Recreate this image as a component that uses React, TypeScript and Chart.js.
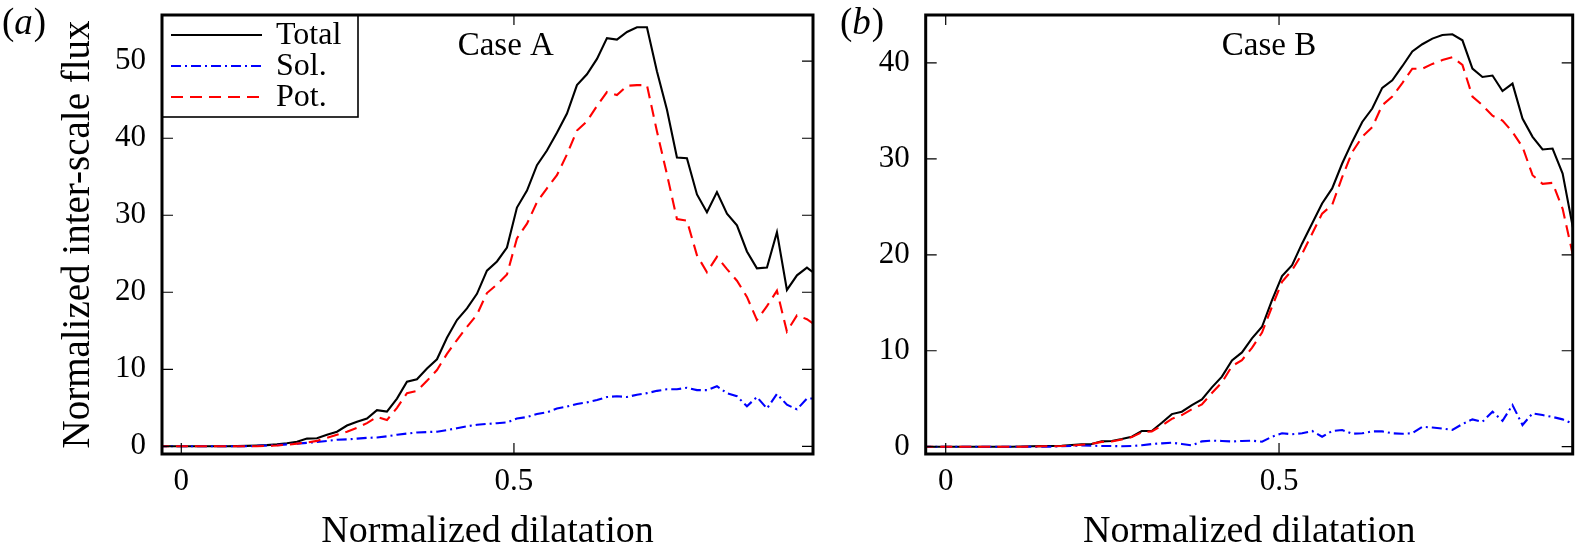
import React, { useEffect, useRef } from "react";
import { Chart, registerables } from "chart.js";

Chart.register(...registerables);

// ---------------- data ----------------
const X_VALUES = [
  -0.0366, -0.0215, -0.0065, 0.0085, 0.0236, 0.0386, 0.0537, 0.0687, 0.0837, 0.0987,
  0.1137, 0.1288, 0.1438, 0.1588, 0.1739, 0.1889, 0.2039, 0.219, 0.234, 0.249,
  0.2641, 0.2791, 0.2941, 0.3091, 0.3242, 0.3392, 0.3542, 0.3693, 0.3843, 0.3993,
  0.4143, 0.4294, 0.4444, 0.4594, 0.4745, 0.4895, 0.5045, 0.5196, 0.5346, 0.5496,
  0.5646, 0.5797, 0.5947, 0.6097, 0.6248, 0.6398, 0.6548, 0.6699, 0.6849, 0.6999,
  0.7149, 0.73, 0.745, 0.76, 0.7751, 0.7901, 0.8051, 0.8202, 0.8352, 0.8502,
  0.8652, 0.8803, 0.8953, 0.9103, 0.9254, 0.9404, 0.9554,
];

// Case A
const A_TOTAL = [
  0, 0, 0, 0, 0, 0, 0, 0, 0.02, 0.05,
  0.1, 0.15, 0.25, 0.4, 0.6, 1.0, 1.05, 1.5, 1.9, 2.7,
  3.2, 3.6, 4.7, 4.5, 6.2, 8.4, 8.7, 10.1, 11.3, 14.1,
  16.4, 17.9, 19.8, 22.8, 24.0, 25.8, 31.0, 33.2, 36.5, 38.4,
  40.7, 43.2, 46.9, 48.3, 50.3, 53.0, 52.8, 53.8, 54.4, 54.4,
  48.7, 43.7, 37.5, 37.4, 32.7, 30.4, 33.0, 30.2, 28.7, 25.3,
  23.1, 23.2, 27.8, 20.3, 22.2, 23.2, 22.2,
];
const A_SOL = [
  0, 0, 0, 0, 0, 0, 0, 0, 0, 0,
  0.05, 0.1, 0.15, 0.25, 0.35, 0.45, 0.55, 0.7, 0.85, 0.9,
  1.0, 1.1, 1.15, 1.3, 1.5, 1.65, 1.8, 1.85, 1.9, 2.1,
  2.35, 2.6, 2.8, 2.9, 3.0, 3.1, 3.6, 3.8, 4.2, 4.4,
  4.9, 5.15, 5.5, 5.7, 6.0, 6.4, 6.5, 6.4, 6.7, 6.9,
  7.2, 7.4, 7.4, 7.6, 7.3, 7.3, 7.8, 6.9, 6.5, 5.2,
  6.4, 4.9, 6.8, 5.4, 4.8, 6.2, 6.2,
];
const A_POT = [
  0, 0, 0, 0, 0, 0, 0, 0, 0, 0,
  0, 0.05, 0.1, 0.2, 0.35, 0.5, 0.7, 1.1, 1.5, 1.9,
  2.4, 3.0, 3.8, 3.4, 5.0, 6.9, 7.2, 8.5, 9.9, 12.0,
  13.8, 15.5, 17.1, 19.9, 21.0, 22.3, 27.0, 28.9, 31.7, 33.5,
  35.2, 37.9, 41.0, 42.2, 44.2, 46.0, 45.6, 46.8, 46.9, 46.9,
  40.9, 35.3, 29.5, 29.3, 24.8, 22.6, 24.6, 23.0, 21.5, 19.4,
  16.4, 18.2, 20.2, 14.9, 17.0, 16.5, 15.6,
];

// Case B
const B_TOTAL = [
  0, 0, 0, 0, 0, 0, 0, 0, 0, 0,
  0.02, 0.04, 0.06, 0.08, 0.1, 0.18, 0.24, 0.28, 0.56, 0.6,
  0.8, 1.04, 1.64, 1.64, 2.5, 3.4, 3.65, 4.34, 4.93, 6.19,
  7.3, 9.0, 9.83, 11.3, 12.5, 15.28, 17.78, 18.93, 21.19, 23.27,
  25.35, 26.92, 29.52, 31.77, 33.85, 35.25, 37.4, 38.2, 39.66, 41.2,
  41.95, 42.54, 42.92, 42.99, 42.36, 39.42, 38.54, 38.69, 37.08, 37.85,
  34.2, 32.3, 30.98, 31.08, 28.48, 22.99, 23.3,
];
const B_SOL = [
  0, 0, 0, 0, 0, 0, 0, 0, 0, 0,
  0, 0, 0, 0, 0.05, 0.08, 0.12, 0.1, 0.08, 0.07,
  0.05, 0.07, 0.15, 0.28, 0.35, 0.42, 0.28, 0.14, 0.56, 0.63,
  0.6, 0.55, 0.6, 0.63, 0.52, 1.04, 1.4, 1.3, 1.4, 1.64,
  1.04, 1.64, 1.74, 1.35, 1.4, 1.6, 1.6, 1.4, 1.35, 1.4,
  2.08, 2.0, 1.9, 1.75, 2.36, 2.85, 2.6, 3.65, 2.7, 4.34,
  2.26, 3.48, 3.3, 3.1, 2.85, 2.4, 2.1,
];
const B_POT = [
  0, 0, 0, 0, 0, 0, 0, 0, 0, 0,
  0, 0.02, 0.04, 0.05, 0.07, 0.12, 0.2, 0.3, 0.5, 0.55,
  0.75, 1.0, 1.5, 1.6, 2.2, 2.9, 3.3, 3.9, 4.4, 5.6,
  6.7, 8.4, 9.03, 10.3, 11.9, 14.6, 17.19, 18.4, 20.1, 22.2,
  24.3, 25.2, 28.1, 30.7, 32.3, 33.3, 35.6, 36.5, 37.9, 39.4,
  39.4, 39.9, 40.3, 40.6, 39.8, 36.5, 35.6, 34.5, 34.0, 32.8,
  31.25, 28.3, 27.4, 27.5, 24.8, 20.1, 20.6,
];

const SERIES_NAMES = ["Total", "Sol.", "Pot."];
const X_TICKS = [0, 0.5];
const X_TICK_LABELS = ["0", "0.5"];
const A_Y_TICKS = [0, 10, 20, 30, 40, 50];
const B_Y_TICKS = [0, 10, 20, 30, 40];
const X_TITLE = "Normalized dilatation";
const Y_TITLE = "Normalized inter-scale flux";

// ---------------- styling ----------------
const FONT = '"Liberation Serif", "DejaVu Serif", serif';
const TICK_SIZE = 31;
const H = 557;

type Panel = {
  canvasLeft: number;
  width: number;
  yAxisWidth: number;
  padRight: number;
  xMin: number;
  xMax: number;
  yMin: number;
  yMax: number;
  yTicks: number[];
  total: number[];
  sol: number[];
  pot: number[];
  letter: string;
  letterX: number;
  caseLabel: string;
  caseX: number;
  legend: boolean;
  yTitle: boolean;
};

const PANELS: Panel[] = [
  {
    canvasLeft: 0,
    width: 830,
    yAxisWidth: 162,
    padRight: 17,
    xMin: -0.029,
    xMax: 0.9495,
    yMin: -1.0,
    yMax: 56.0,
    yTicks: A_Y_TICKS,
    total: A_TOTAL,
    sol: A_SOL,
    pot: A_POT,
    letter: "a",
    letterX: 2,
    caseLabel: "Case A",
    caseX: 0.4877,
    legend: true,
    yTitle: true,
  },
  {
    canvasLeft: 830,
    width: 750,
    yAxisWidth: 95.7,
    padRight: 7.3,
    xMin: -0.03,
    xMax: 0.9405,
    yMin: -0.76,
    yMax: 45.0,
    yTicks: B_Y_TICKS,
    total: B_TOTAL,
    sol: B_SOL,
    pot: B_POT,
    letter: "b",
    letterX: 10,
    caseLabel: "Case B",
    caseX: 0.485,
    legend: false,
    yTitle: false,
  },
];

function zeroPadding(s: any) {
  s.paddingTop = 0;
  s.paddingBottom = 0;
  s.paddingLeft = 0;
  s.paddingRight = 0;
}

function makeDecor(p: Panel) {
  return {
    id: "decor",
    afterDatasetsDraw(chart: any) {
      const ctx: CanvasRenderingContext2D = chart.ctx;
      const { left, top, right, bottom } = chart.chartArea;
      const xs = chart.scales.x;
      const ys = chart.scales.y;
      ctx.save();
      ctx.setLineDash([]);
      ctx.strokeStyle = "#000";
      ctx.fillStyle = "#000";

      // inward ticks
      ctx.lineWidth = 1.2;
      ctx.beginPath();
      for (const v of X_TICKS) {
        const px = xs.getPixelForValue(v);
        ctx.moveTo(px, bottom);
        ctx.lineTo(px, bottom - 11);
        ctx.moveTo(px, top);
        ctx.lineTo(px, top + 10);
      }
      for (const v of p.yTicks) {
        const py = ys.getPixelForValue(v);
        ctx.moveTo(left, py);
        ctx.lineTo(left + 11, py);
        ctx.moveTo(right, py);
        ctx.lineTo(right - 11, py);
      }
      ctx.stroke();

      // case label
      ctx.font = `33px ${FONT}`;
      ctx.textAlign = "center";
      ctx.textBaseline = "alphabetic";
      ctx.fillText(p.caseLabel, xs.getPixelForValue(p.caseX), top + 40);

      // legend
      if (p.legend) {
        const w = 196;
        const h = 102;
        ctx.fillStyle = "#fff";
        ctx.fillRect(left, top, w, h);
        ctx.lineWidth = 1.6;
        ctx.strokeStyle = "#000";
        ctx.strokeRect(left, top, w, h);
        const offs = [20, 51, 82];
        chart.data.datasets.forEach((ds: any, k: number) => {
          const y = top + offs[k];
          ctx.save();
          ctx.strokeStyle = ds.borderColor;
          ctx.lineWidth = ds.borderWidth;
          ctx.setLineDash(ds.borderDash || []);
          ctx.beginPath();
          ctx.moveTo(left + 9, y);
          ctx.lineTo(left + 100, y);
          ctx.stroke();
          ctx.restore();
          ctx.fillStyle = "#000";
          ctx.font = `32px ${FONT}`;
          ctx.textAlign = "left";
          ctx.textBaseline = "middle";
          ctx.fillText(ds.label, left + 114, y + 1);
        });
      }

      // frame
      ctx.setLineDash([]);
      ctx.lineWidth = 3;
      ctx.strokeStyle = "#000";
      ctx.strokeRect(left, top, right - left, bottom - top);

      // panel letter (a)/(b)
      ctx.fillStyle = "#000";
      ctx.textAlign = "left";
      ctx.textBaseline = "alphabetic";
      let x = p.letterX;
      const by = 34;
      ctx.font = `37px ${FONT}`;
      ctx.fillText("(", x, by);
      x += ctx.measureText("(").width;
      ctx.font = `italic 37px ${FONT}`;
      ctx.fillText(p.letter, x, by);
      x += ctx.measureText(p.letter).width + 1;
      ctx.font = `37px ${FONT}`;
      ctx.fillText(")", x, by);

      // axis titles
      ctx.font = `38px ${FONT}`;
      ctx.textAlign = "center";
      ctx.textBaseline = "alphabetic";
      ctx.fillText(X_TITLE, (left + right) / 2, 542);
      if (p.yTitle) {
        ctx.save();
        ctx.font = `39px ${FONT}`;
        ctx.translate(89, (top + bottom) / 2);
        ctx.rotate(-Math.PI / 2);
        ctx.fillText(Y_TITLE, 0, 0);
        ctx.restore();
      }
      ctx.restore();
    },
  };
}

function PanelChart({ p }: { p: Panel }) {
  const ref = useRef<HTMLCanvasElement | null>(null);
  useEffect(() => {
    if (!ref.current) return;
    let chart: Chart | null = null;
    let cancelled = false;
    const toPts = (arr: number[]) => X_VALUES.map((x, i) => ({ x, y: arr[i] }));
    const build = () => {
      if (cancelled || !ref.current) return;
      chart = new Chart(ref.current, {
        type: "line",
        data: {
          datasets: [
            {
              label: SERIES_NAMES[0],
              data: toPts(p.total),
              borderColor: "#000000",
              borderWidth: 2.1,
              borderDash: [],
              pointRadius: 0,
              tension: 0,
              clip: 0,
              order: 3,
            },
            {
              label: SERIES_NAMES[1],
              data: toPts(p.sol),
              borderColor: "#0000ff",
              borderWidth: 2.1,
              borderDash: [10, 4, 2, 4],
              pointRadius: 0,
              tension: 0,
              clip: 0,
              order: 2,
            },
            {
              label: SERIES_NAMES[2],
              data: toPts(p.pot),
              borderColor: "#ff0000",
              borderWidth: 2.1,
              borderDash: [12, 7],
              pointRadius: 0,
              tension: 0,
              clip: 0,
              order: 1,
            },
          ] as any,
        },
        options: {
          animation: false,
          responsive: false,
          maintainAspectRatio: false,
          layout: { padding: { left: 0, right: p.padRight, top: 15, bottom: 0 } },
          plugins: {
            legend: { display: false },
            tooltip: { enabled: false },
            title: { display: false },
          },
          scales: {
            x: {
              type: "linear",
              min: p.xMin,
              max: p.xMax,
              grid: { display: false, drawTicks: false },
              border: { display: false },
              afterBuildTicks: (s: any) => {
                s.ticks = X_TICKS.map((v) => ({ value: v }));
              },
              afterFit: (s: any) => {
                s.height = 103;
                zeroPadding(s);
              },
              ticks: {
                autoSkip: false,
                maxRotation: 0,
                padding: 9,
                color: "#000",
                font: { family: FONT, size: TICK_SIZE },
                callback: (_v: any, i: number) => X_TICK_LABELS[i] ?? "",
              },
            },
            y: {
              type: "linear",
              min: p.yMin,
              max: p.yMax,
              grid: { display: false, drawTicks: false },
              border: { display: false },
              afterBuildTicks: (s: any) => {
                s.ticks = p.yTicks.map((v) => ({ value: v }));
              },
              afterFit: (s: any) => {
                s.width = p.yAxisWidth;
                zeroPadding(s);
              },
              ticks: {
                autoSkip: false,
                padding: 16,
                color: "#000",
                font: { family: FONT, size: TICK_SIZE },
                callback: (v: any) => String(v),
              },
            },
          },
        } as any,
        plugins: [makeDecor(p)],
      });
    };
    const fonts: any = (document as any).fonts;
    if (fonts && fonts.load) {
      Promise.all([
        fonts.load('30px "Liberation Serif"'),
        fonts.load('italic 30px "Liberation Serif"'),
      ])
        .catch(() => null)
        .then(build);
    } else {
      build();
    }
    return () => {
      cancelled = true;
      if (chart) chart.destroy();
    };
  }, [p]);
  return (
    <div style={{ position: "absolute", left: p.canvasLeft, top: 0, width: p.width, height: H }}>
      <canvas ref={ref} width={p.width} height={H} style={{ width: p.width, height: H, display: "block" }} />
    </div>
  );
}

export default function App() {
  return (
    <div
      style={{
        position: "fixed",
        left: 0,
        top: 0,
        width: 1580,
        height: H,
        background: "#fff",
        overflow: "hidden",
        fontFamily: FONT,
      }}
    >
      {PANELS.map((p) => (
        <PanelChart key={p.letter} p={p} />
      ))}
    </div>
  );
}
